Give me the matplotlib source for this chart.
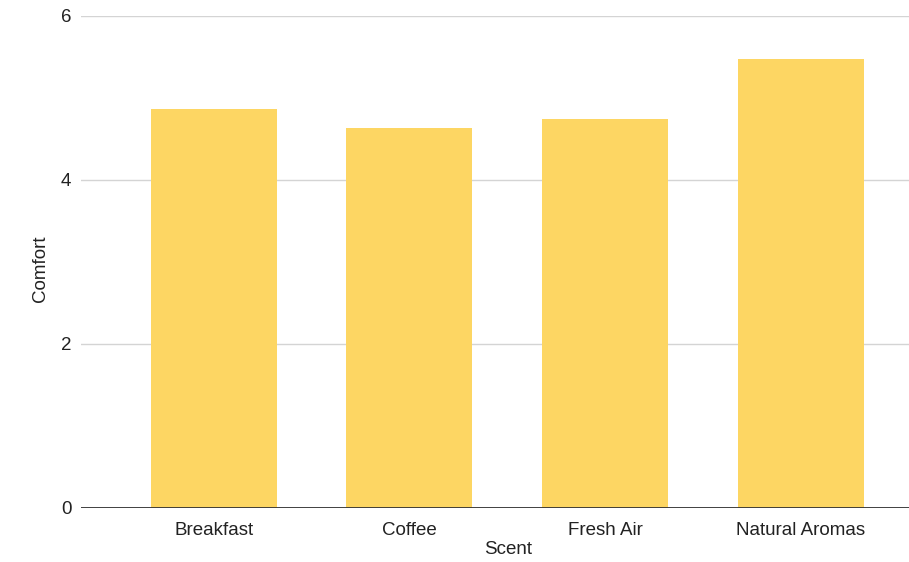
import matplotlib
matplotlib.use("Agg")
import matplotlib.pyplot as plt

scents = ["Breakfast", "Coffee", "Fresh Air", "Natural Aromas"]
comfort = [4.86, 4.63, 4.75, 5.48]
y_ticks = [0, 2, 4, 6]

plt.rcParams["font.family"] = ["Liberation Sans", "DejaVu Sans"]

FS = 13.5
TXT = "#222222"

fig = plt.figure(figsize=(9.09, 5.62), dpi=100)
W, H = 909, 562
left, right, top, bottom = 81, 909, 16, 508
ax = fig.add_axes([left / W, 1 - bottom / H, (right - left) / W, (bottom - top) / H])

x = range(len(scents))
ax.bar(x, comfort, width=0.644, color="#fdd663", zorder=3)

ax.set_ylim(0, 6)
ax.set_xlim(-0.678, 3.553)
ax.set_yticks(y_ticks)
ax.set_xticks(list(x))
ax.set_xticklabels(scents)

ax.grid(axis="y", color="#d4d4d4", linewidth=1.0, zorder=0)
ax.axhline(0, color="#333333", linewidth=1.3, zorder=4)

for s in ax.spines.values():
    s.set_visible(False)
ax.tick_params(axis="both", length=0, labelsize=FS, colors=TXT)
ax.tick_params(axis="x", pad=10)
ax.tick_params(axis="y", pad=7)

# axis titles placed in figure pixels
fig.text(508 / W, 1 - 550 / H, "Scent", fontsize=FS, color=TXT,
         ha="center", va="center")
fig.text(40 / W, 1 - 269 / H, "Comfort", fontsize=FS, color=TXT,
         ha="center", va="center", rotation=90)

fig.savefig("out.png", dpi=100)
